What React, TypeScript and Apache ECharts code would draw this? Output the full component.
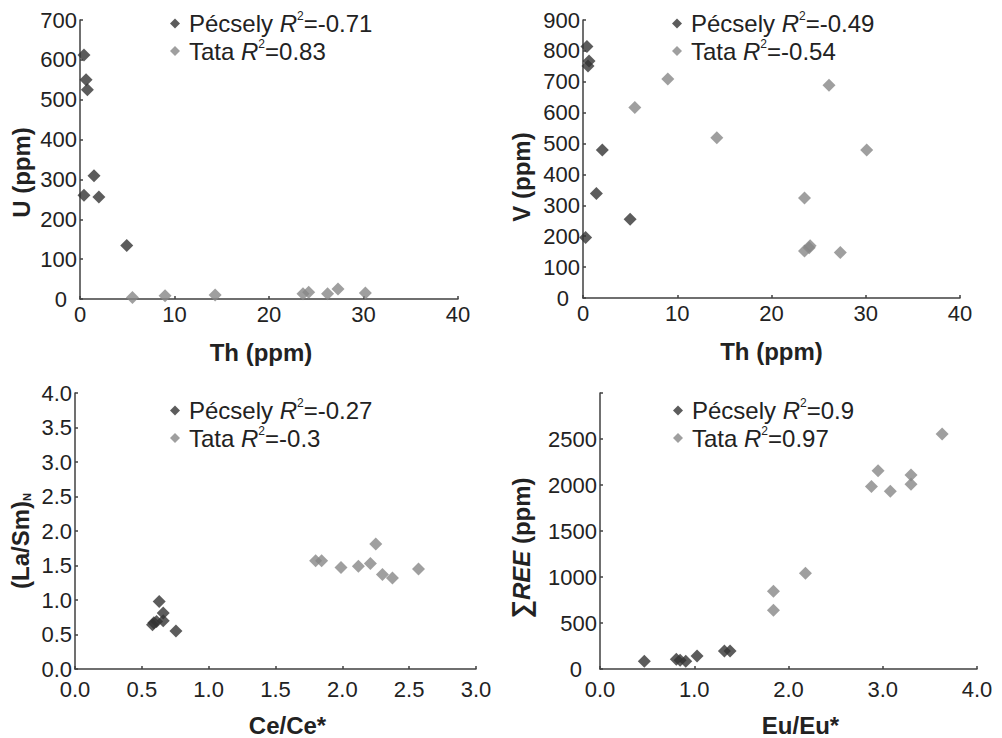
import React, { useEffect, useRef } from 'react';
import * as echarts from 'echarts';

// Panel A: Th (ppm) vs U (ppm)
const thUPecsely = [[0.42, 612], [0.64, 550], [0.78, 525], [0.42, 260], [1.48, 309], [2.0, 256], [4.95, 134]];
const thUTata = [[5.55, 4], [9.0, 8], [14.3, 10], [23.6, 13], [24.2, 17], [26.2, 13], [27.3, 25], [30.2, 15]];
// Panel B: Th (ppm) vs V (ppm)
const thVPecsely = [[0.42, 814], [0.64, 767], [0.53, 751], [2.05, 479], [1.42, 338], [5.0, 255], [0.28, 196]];
const thVTata = [[9.0, 709], [5.5, 617], [26.1, 689], [14.2, 519], [30.1, 479], [23.5, 324], [23.5, 152], [24.0, 163], [24.1, 169], [27.3, 147]];
// Panel C: Ce/Ce* vs (La/Sm)N
const ceLaPecsely = [[0.63, 0.98], [0.66, 0.81], [0.66, 0.7], [0.61, 0.69], [0.58, 0.64], [0.59, 0.67], [0.755, 0.55]];
const ceLaTata = [[1.8, 1.57], [1.845, 1.57], [1.99, 1.47], [2.12, 1.49], [2.21, 1.53], [2.25, 1.81], [2.3, 1.37], [2.375, 1.32], [2.57, 1.45]];
// Panel D: Eu/Eu* vs ΣREE (ppm)
const euReePecsely = [[0.47, 85], [0.81, 107], [0.85, 96], [0.91, 85], [1.03, 142], [1.32, 196], [1.38, 196]];
const euReeTata = [[1.84, 844], [1.84, 638], [2.18, 1040], [2.88, 1984], [2.95, 2155], [3.08, 1931], [3.3, 2109], [3.3, 2009], [3.63, 2554]];

// Legend names (site + R²)
const legendNames = [
  ['Pécsely R²=-0.71', 'Tata R²=0.83'],
  ['Pécsely R²=-0.49', 'Tata R²=-0.54'],
  ['Pécsely R²=-0.27', 'Tata R²=-0.3'],
  ['Pécsely R²=0.9', 'Tata R²=0.97'],
];

const FONT = '"Liberation Sans", Arial, sans-serif';
const DARK = '#333333';
const LIGHT = '#878787';
const AXIS = '#404040';

const grids = [
  { left: 80, top: 20, width: 378, height: 279 },
  { left: 583, top: 20, width: 377, height: 278 },
  { left: 75, top: 393, width: 401, height: 280 },
  { left: 600, top: 393, width: 377, height: 281 },
];

const baseAxis = {
  axisLine: { show: true, lineStyle: { color: AXIS, width: 1.5 } },
  axisTick: { show: true, inside: true, length: 3, lineStyle: { color: AXIS, width: 1.5 } },
  splitLine: { show: false },
  nameLocation: 'middle' as const,
};

function xAxis(gi: number, min: number, max: number, interval: number, name: string, dec: number, gap: number, labelMargin: number, namePad: number[]) {
  return {
    ...baseAxis,
    type: 'value',
    gridIndex: gi,
    min, max, interval,
    name,
    nameGap: gap,
    nameTextStyle: { fontFamily: FONT, fontSize: 24, fontWeight: 'bold', color: '#222', padding: namePad },
    axisLabel: { fontFamily: FONT, fontSize: 22, color: '#222', margin: labelMargin, formatter: (v: number) => v.toFixed(dec) },
  };
}

function yAxis(gi: number, min: number, max: number, interval: number, name: string, dec: number, gap: number, namePad: number[], zeroShift: number, rich?: any, hide?: number) {
  return {
    ...baseAxis,
    type: 'value',
    gridIndex: gi,
    min, max, interval,
    name,
    nameGap: gap,
    nameTextStyle: { fontFamily: FONT, fontSize: 24, fontWeight: 'bold', color: '#222', padding: namePad, rich },
    axisLabel: {
      fontFamily: FONT, fontSize: 22, color: '#222', margin: 3,
      rich: { z: { fontFamily: FONT, fontSize: 22, color: '#222', padding: [0, zeroShift, 0, 0] } },
      formatter: (v: number) => {
        if (hide !== undefined && Math.abs(v - hide) < 1e-9) return '';
        const s = v.toFixed(dec);
        return v === 0 && zeroShift > 0 ? `{z|${s}}` : s;
      },
    },
  };
}

const legendRich = {
  n: { fontFamily: FONT, fontSize: 24, color: '#222', lineHeight: 27 },
  i: { fontFamily: FONT, fontSize: 24, color: '#222', fontStyle: 'italic', lineHeight: 27 },
  s: { fontFamily: FONT, fontSize: 12, color: '#222', verticalAlign: 'top', lineHeight: 27, padding: [0, 0, 10, 0] },
};

const legendPos = [
  { left: 170, top: 10 },
  { left: 672, top: 10 },
  { left: 170, top: 397 },
  { left: 673, top: 397 },
];

const panelData = [
  [thUPecsely, thUTata],
  [thVPecsely, thVTata],
  [ceLaPecsely, ceLaTata],
  [euReePecsely, euReeTata],
];

const option: any = {
  animation: false,
  backgroundColor: '#fff',
  grid: grids,
  xAxis: [
    xAxis(0, 0, 40, 10, 'Th (ppm)', 0, 41, 4, [0, 16, 0, 0]),
    xAxis(1, 0, 40, 10, 'Th (ppm)', 0, 41, 4, [0, 0, 0, 0]),
    xAxis(2, 0, 3, 0.5, 'Ce/Ce*', 1, 44, 9, [0, 0, 0, 24]),
    xAxis(3, 0, 4, 1, 'Eu/Eu*', 1, 44, 9, [0, 0, 0, 24]),
  ],
  yAxis: [
    yAxis(0, 0, 700, 100, 'U (ppm)', 0, 47, [0, 26, 0, 0], 10),
    yAxis(1, 0, 900, 100, 'V (ppm)', 0, 50, [0, 36, 0, 0], 11),
    yAxis(2, 0, 4, 0.5, '{a|(La/Sm)}{sub|N}', 1, 43, [0, 20, 0, 0], 0, {
      a: { fontFamily: FONT, fontSize: 24, fontWeight: 'bold', color: '#222' },
      sub: { fontFamily: FONT, fontSize: 11, fontWeight: 'bold', color: '#222', verticalAlign: 'bottom', padding: [12, 0, 0, 0] },
    }),
    yAxis(3, 0, 3000, 500, '{s|∑}{i|REE}{a| (ppm)}', 0, 66, [0, 34, 0, 0], 15, {
      s: { fontFamily: FONT, fontSize: 26, color: '#222' },
      a: { fontFamily: FONT, fontSize: 24, fontWeight: 'bold', color: '#222' },
      i: { fontFamily: FONT, fontSize: 24, fontWeight: 'bold', fontStyle: 'italic', color: '#222' },
    }, 3000),
  ],
  legend: legendNames.map((names, gi) => ({
    orient: 'vertical',
    left: legendPos[gi].left,
    top: legendPos[gi].top,
    padding: 0,
    itemGap: 2,
    itemWidth: 10,
    itemHeight: 10,
    data: names.map((n) => ({ name: n, icon: 'diamond' })),
    textStyle: { fontFamily: FONT, fontSize: 24, color: '#222', padding: [0, 0, 0, 4], rich: legendRich },
    formatter: (name: string) => {
      const [a, b] = name.split(' R²');
      return `{n|${a} }{i|R}{s|2}{n|${b}}`;
    },
  })),
  series: panelData.flatMap((pair, gi) =>
    pair.map((d, k) => ({
      type: 'scatter',
      name: legendNames[gi][k],
      xAxisIndex: gi,
      yAxisIndex: gi,
      symbol: 'diamond',
      symbolSize: 13,
      itemStyle: { color: k === 0 ? DARK : LIGHT },
      data: d,
    }))
  ),
};

export default function App() {
  const ref = useRef<HTMLDivElement>(null);
  useEffect(() => {
    const chart = echarts.init(ref.current!, null, { renderer: 'svg' });
    chart.setOption(option);
    return () => chart.dispose();
  }, []);
  return (
    <div
      ref={ref}
      style={{ position: 'absolute', left: 0, top: 0, width: 1002, height: 738, background: '#fff' }}
    />
  );
}
